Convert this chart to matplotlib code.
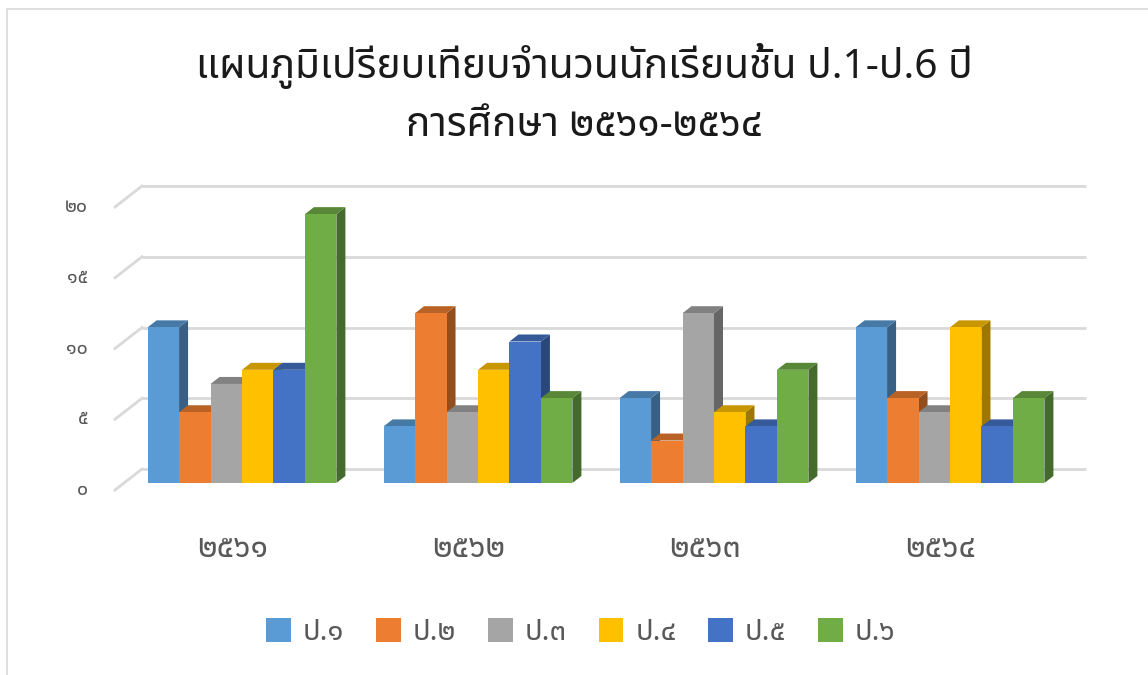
import matplotlib
matplotlib.use('Agg')
import matplotlib.pyplot as plt
import numpy as np
from matplotlib import font_manager
from matplotlib.patches import Polygon, Rectangle

# data
years = ['๒๕๖๑', '๒๕๖๒', '๒๕๖๓', '๒๕๖๔']
grades = ['ป.๑', 'ป.๒', 'ป.๓', 'ป.๔', 'ป.๕', 'ป.๖']
p1 = [11, 4, 6, 11]
p2 = [5, 12, 3, 6]
p3 = [7, 5, 12, 5]
p4 = [8, 8, 5, 11]
p5 = [8, 10, 4, 4]
p6 = [19, 6, 8, 6]
yticks = [0, 5, 10, 15, 20]
ytick_labels = ['๐', '๕', '๑๐', '๑๕', '๒๐']
colors = ['#5B9BD5', '#ED7D31', '#A5A5A5', '#FFC000', '#4472C4', '#70AD47']
title = 'แผนภูมิเปรียบเทียบจำนวนนักเรียนชั้น ป.1-ป.6 ปี\nการศึกษา ๒๕๖๑-๒๕๖๔'


def find_thai_font():
    try:
        from fontTools.ttLib import TTFont
    except Exception:
        return None
    prefer = ['Tahoma', 'Leelawadee UI', 'Noto Sans Thai', 'Noto Sans Thai UI',
              'Noto Sans Thai Looped', 'Sarabun', 'Loma', 'Garuda', 'Waree',
              'Umpush', 'Kinnari', 'Norasi']
    found = {}
    for f in font_manager.fontManager.ttflist:
        try:
            tt = TTFont(f.fname, fontNumber=0, lazy=True)
            cmap = tt.getBestCmap()
            if cmap and 0x0E1B in cmap and 0x0E51 in cmap:
                found.setdefault(f.name, f.fname)
        except Exception:
            pass
    for p in prefer:
        if p in found:
            return p
    if found:
        return sorted(found)[0]
    return None


thai = find_thai_font()
fams = [thai, 'DejaVu Sans'] if thai else ['DejaVu Sans']
plt.rcParams['font.family'] = fams

series = [p1, p2, p3, p4, p5, p6]

fig = plt.figure(figsize=(11.48, 6.75), dpi=100)
ax = fig.add_axes([0, 0, 1, 1])
# front plane: group i centred at pixel 233 + 236*i, value 0 at 490 px, 14.15 px per unit
ax.set_xlim(-233 / 236, (1148 - 233) / 236)
ax.set_ylim(-185 / 14.15, 490 / 14.15)
ax.axis('off')

# chart border
fig.patches.append(Rectangle((7 / 1148, -0.01), 1.5, (675 - 9) / 675 + 0.01,
                             transform=fig.transFigure, fill=False,
                             edgecolor='#D9D9D9', linewidth=1.2))

DX = 27 / 236   # depth offset (x units)
DY = 21 / 14.15  # depth offset (value units)
grid_c = '#D9D9D9'
x_left, x_right = -0.5, 3.5

for v, lab in zip(yticks, ytick_labels):
    ax.plot([x_left + DX, x_right + DX], [v + DY, v + DY], color=grid_c, lw=2, zorder=1,
            solid_capstyle='butt')
    ax.plot([x_left, x_left + DX], [v, v + DY], color=grid_c, lw=2, zorder=1)
    ax.text(x_left - 0.114, v, lab, ha='right', va='center', fontsize=14,
            color='#595959')

n = len(series)
gw = 0.8
w = gw / n
dx, dy = DX / 3, DY / 3
base = DY / 3


def shade(c, f):
    r, g, b = matplotlib.colors.to_rgb(c)
    return (r * f, g * f, b * f)


z = 2
for i in range(len(years)):
    for j in range(n):
        h = series[j][i]
        xl = i - gw / 2 + j * w + DX / 3
        xr = xl + w
        c = colors[j]
        ax.add_patch(Polygon([(xr, base), (xr + dx, base + dy), (xr + dx, base + h + dy), (xr, base + h)],
                             closed=True, facecolor=shade(c, 0.62), edgecolor='none', zorder=z))
        ax.add_patch(Polygon([(xl, base + h), (xr, base + h), (xr + dx, base + h + dy), (xl + dx, base + h + dy)],
                             closed=True, facecolor=shade(c, 0.78), edgecolor='none', zorder=z))
        ax.bar(xl, h, bottom=base, width=w, align='edge', color=c, edgecolor='none', zorder=z + 0.5)
        z += 1

for i, y in enumerate(years):
    ax.text(i, -4.1, y, ha='center', va='center', fontsize=23, color='#595959')

fig.text(0.509, 0.86, title, ha='center', va='center', fontsize=29.3, color='#1A1A1A',
         linespacing=1.55)

handles = [Rectangle((0, 0), 1, 1, facecolor=c, edgecolor='none') for c in colors]
fig.legend(handles, grades, loc='center', bbox_to_anchor=(0.506, 0.063), ncol=6,
           frameon=False, fontsize=21, handlelength=0.85, handleheight=0.85,
           handletextpad=0.4, columnspacing=1.1, labelcolor='#595959')

fig.savefig('out.png', dpi=100)
